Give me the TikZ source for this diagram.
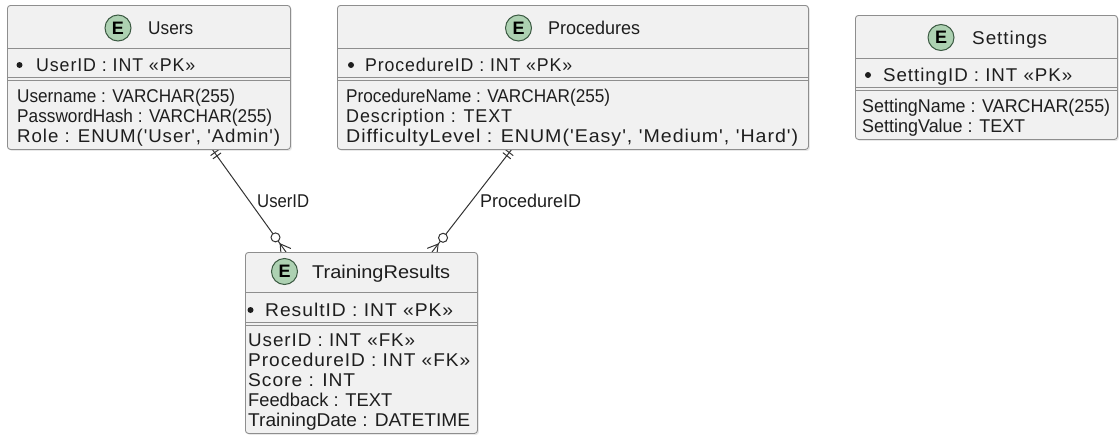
\documentclass[tikz,border=0pt]{standalone}
\usepackage{fontspec}
\setmainfont{Liberation Sans}
\newfontfamily\widefont[LetterSpace=5]{Liberation Sans}
\usetikzlibrary{calc,shadows}
\definecolor{boxfill}{HTML}{F1F1F1}
\definecolor{boxline}{HTML}{8E8E8E}
\definecolor{ink}{HTML}{1E1E1E}
\definecolor{circfill}{HTML}{ADD1B2}
\definecolor{circline}{HTML}{3C5A43}
\definecolor{linkc}{HTML}{333333}
% text set to a given width (in pt), natural height
\newcommand\fitw[2]{\resizebox{#1pt}{\height}{#2}}
\newcommand\nrm{\fontsize{18.5}{20}\selectfont}
\newcommand\wid{\widefont\fontsize{18.5}{20}\selectfont}
\tikzset{
  entbox/.style={draw=boxline, fill=boxfill, rounded corners=3pt, line width=0.9pt,
    inner sep=0pt, anchor=north west,
    drop shadow={shadow xshift=1.5pt, shadow yshift=-1.5pt, opacity=0.18}},
  sepline/.style={draw=boxline, line width=0.9pt},
  txt/.style={inner sep=0pt, anchor=base west, text=ink},
  ecirc/.style={circle, draw=circline, fill=circfill, line width=1pt,
    minimum size=26pt, inner sep=0pt, text=black, font=\fontsize{18}{18}\selectfont\bfseries},
  dot/.style={circle, fill=ink, inner sep=0pt, minimum size=6pt},
  link/.style={draw=linkc, line width=1pt},
  zeroring/.style={draw=linkc, line width=1pt, fill=white},
}
\begin{document}
\begin{tikzpicture}[x=1pt, y=-1pt]
\useasboundingbox (0,0) rectangle (1119,434);

% ---------- relationship lines ----------
\coordinate (uA) at (212,149);
\coordinate (uE) at (286,252);
\coordinate (pA) at (512,149);
\coordinate (pE) at (432,252);

\foreach \a/\e in {uA/uE, pA/pE}{
  \draw[link] (\a) -- (\e);
  % exactly one: double bar
  \coordinate (t1) at ($(\a)!4.5pt!(\e)$);
  \coordinate (t2) at ($(\a)!8.5pt!(\e)$);
  \draw[link] ($(t1)!5pt!90:(\e)$) -- ($(t1)!5pt!-90:(\e)$);
  \draw[link] ($(t2)!5pt!90:(\e)$) -- ($(t2)!5pt!-90:(\e)$);
  % zero or many: crow's foot and ring
  \coordinate (cf) at ($(\e)!10pt!(\a)$);
  \draw[link] (cf) -- ($(\e)!6pt!90:(\a)$);
  \draw[link] (cf) -- ($(\e)!6pt!-90:(\a)$);
  \draw[zeroring] ($(\e)!18pt!(\a)$) circle[radius=4.5pt];
}

\node[txt] (lbl-user) at (257,207.5) {\fitw{52}{\nrm UserID}};
\node[txt] (lbl-proc) at (480,207.5) {\fitw{101}{\nrm ProcedureID}};

% ---------- Users ----------
\node[entbox, minimum width=283pt, minimum height=144pt] (users) at (7,5) {};
\draw[sepline] (7,48) -- (290,48);
\draw[sepline] (7,77) -- (290,77);
\draw[sepline] (7,80) -- (290,80);
\node[ecirc] (users-e) at (118,28) {E};
\node[txt] (users-t) at (148,34.5) {\fitw{45}{\nrm Users}};
\node[dot] (users-d) at (19.5,65) {};
\node[txt] (users-pk) at (36,71.5) {\fitw{159}{\wid UserID : INT «PK»}};
\node[txt] (users-a1) at (17,102) {\fitw{218}{\nrm Username : VARCHAR(255)}};
\node[txt] (users-a2) at (17,122) {\fitw{255}{\nrm PasswordHash : VARCHAR(255)}};
\node[txt] (users-a3) at (17,142) {\fitw{263}{\wid Role : ENUM('User', 'Admin')}};

% ---------- Procedures ----------
\node[entbox, minimum width=471pt, minimum height=144pt] (procs) at (337,5) {};
\draw[sepline] (337,48) -- (808,48);
\draw[sepline] (337,77) -- (808,77);
\draw[sepline] (337,80) -- (808,80);
\node[ecirc] (procs-e) at (518.5,28) {E};
\node[txt] (procs-t) at (548,34.5) {\fitw{92}{\nrm Procedures}};
\node[dot] (procs-d) at (351,65) {};
\node[txt] (procs-pk) at (365,71.5) {\fitw{207}{\wid ProcedureID : INT «PK»}};
\node[txt] (procs-a1) at (346,102) {\fitw{264}{\nrm ProcedureName : VARCHAR(255)}};
\node[txt] (procs-a2) at (346,122) {\fitw{166}{\wid Description : TEXT}};
\node[txt] (procs-a3) at (346,142) {\fitw{452}{\wid DifficultyLevel : ENUM('Easy', 'Medium', 'Hard')}};

% ---------- Settings ----------
\node[entbox, minimum width=262pt, minimum height=124pt] (sets) at (855,15) {};
\draw[sepline] (855,58) -- (1117,58);
\draw[sepline] (855,87) -- (1117,87);
\draw[sepline] (855,90) -- (1117,90);
\node[ecirc] (sets-e) at (941,37.5) {E};
\node[txt] (sets-t) at (972,44) {\fitw{75}{\wid Settings}};
\node[dot] (sets-d) at (868,75) {};
\node[txt] (sets-pk) at (883,81.5) {\fitw{189}{\wid SettingID : INT «PK»}};
\node[txt] (sets-a1) at (862,112) {\fitw{248}{\nrm SettingName : VARCHAR(255)}};
\node[txt] (sets-a2) at (862,132) {\fitw{163}{\nrm SettingValue : TEXT}};

% ---------- TrainingResults ----------
\node[entbox, minimum width=232pt, minimum height=181pt] (results) at (245,252) {};
\draw[sepline] (245,292) -- (477,292);
\draw[sepline] (245,322.5) -- (477,322.5);
\draw[sepline] (245,325.5) -- (477,325.5);
\node[ecirc] (results-e) at (284.5,271.5) {E};
\node[txt] (results-t) at (312,278) {\fitw{138}{\nrm TrainingResults}};
\node[dot] (results-d) at (250.5,310) {};
\node[txt] (results-pk) at (265,316.5) {\fitw{188}{\wid ResultID : INT «PK»}};
\node[txt] (results-a1) at (248,346) {\fitw{167}{\wid UserID : INT «FK»}};
\node[txt] (results-a2) at (248,366) {\fitw{222}{\wid ProcedureID : INT «FK»}};
\node[txt] (results-a3) at (248,386) {\fitw{107}{\wid Score : INT}};
\node[txt] (results-a4) at (248,406) {\fitw{144}{\nrm Feedback : TEXT}};
\node[txt] (results-a5) at (248,426) {\fitw{222}{\nrm TrainingDate : DATETIME}};
\end{tikzpicture}
\end{document}
